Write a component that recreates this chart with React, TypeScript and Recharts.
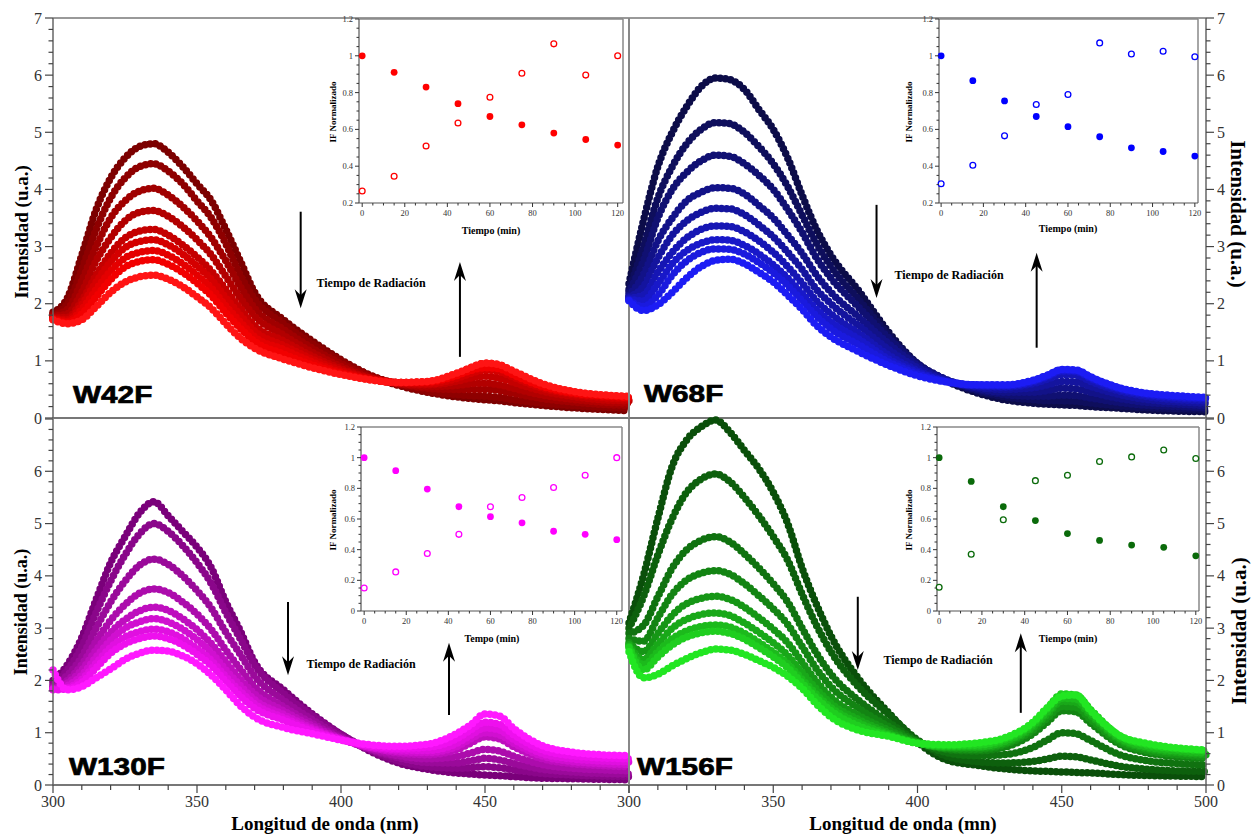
import React from 'react';
import { ComposedChart, ScatterChart, Line, Scatter, XAxis, YAxis, ReferenceLine, ReferenceDot } from 'recharts';

// ---------- data ----------
const WL = [300, 305, 310, 315, 320, 325, 330, 335, 340, 345, 350, 355, 360, 365, 370, 380, 390, 400, 410, 420, 430, 440, 445, 450, 455, 460, 470, 480, 490, 500];
const TIMES = [0, 15, 30, 45, 60, 75, 90, 105, 120];

// spectra, one row per irradiation time (0 ... 120 min), values at WL
const W42F_CURVES = [
  [1.85, 2.1, 2.85, 3.65, 4.2, 4.55, 4.75, 4.8, 4.65, 4.4, 4.1, 3.8, 3.3, 2.75, 2.2, 1.72, 1.35, 1.02, 0.75, 0.57, 0.45, 0.37, 0.34, 0.32, 0.3, 0.27, 0.22, 0.18, 0.15, 0.13],
  [1.82, 2.0, 2.6, 3.3, 3.85, 4.2, 4.4, 4.45, 4.32, 4.1, 3.8, 3.5, 3.05, 2.5, 2.08, 1.65, 1.3, 1.0, 0.75, 0.58, 0.47, 0.41, 0.39, 0.38, 0.36, 0.32, 0.26, 0.22, 0.19, 0.17],
  [1.8, 1.9, 2.4, 3.0, 3.5, 3.8, 3.97, 4.02, 3.9, 3.7, 3.45, 3.15, 2.75, 2.3, 1.92, 1.55, 1.22, 0.95, 0.73, 0.6, 0.52, 0.5, 0.5, 0.5, 0.48, 0.43, 0.34, 0.28, 0.24, 0.22],
  [1.78, 1.82, 2.2, 2.75, 3.15, 3.45, 3.6, 3.63, 3.53, 3.35, 3.12, 2.85, 2.48, 2.1, 1.78, 1.45, 1.15, 0.9, 0.71, 0.6, 0.55, 0.57, 0.6, 0.61, 0.58, 0.52, 0.4, 0.33, 0.28, 0.26],
  [1.76, 1.76, 2.05, 2.5, 2.88, 3.15, 3.27, 3.3, 3.2, 3.03, 2.82, 2.57, 2.25, 1.92, 1.62, 1.35, 1.08, 0.86, 0.7, 0.61, 0.58, 0.64, 0.7, 0.73, 0.7, 0.62, 0.47, 0.38, 0.32, 0.3],
  [1.75, 1.72, 1.98, 2.38, 2.73, 2.98, 3.09, 3.12, 3.03, 2.87, 2.66, 2.42, 2.1, 1.8, 1.52, 1.27, 1.03, 0.83, 0.69, 0.62, 0.6, 0.69, 0.78, 0.84, 0.81, 0.71, 0.52, 0.42, 0.36, 0.33],
  [1.74, 1.69, 1.9, 2.25, 2.57, 2.8, 2.9, 2.93, 2.85, 2.7, 2.5, 2.27, 1.96, 1.68, 1.42, 1.2, 0.98, 0.8, 0.68, 0.62, 0.63, 0.76, 0.88, 0.96, 0.93, 0.8, 0.58, 0.46, 0.4, 0.37],
  [1.73, 1.67, 1.82, 2.12, 2.42, 2.64, 2.74, 2.77, 2.69, 2.55, 2.36, 2.14, 1.84, 1.57, 1.34, 1.12, 0.93, 0.78, 0.67, 0.62, 0.63, 0.74, 0.83, 0.88, 0.86, 0.75, 0.55, 0.44, 0.39, 0.36],
  [1.72, 1.65, 1.72, 1.95, 2.2, 2.38, 2.47, 2.5, 2.43, 2.3, 2.12, 1.92, 1.65, 1.4, 1.22, 1.03, 0.88, 0.76, 0.67, 0.62, 0.64, 0.78, 0.88, 0.96, 0.93, 0.82, 0.6, 0.47, 0.41, 0.38],
];
const W68F_CURVES = [
  [2.35, 3.45, 4.4, 5.0, 5.45, 5.8, 5.95, 5.92, 5.75, 5.4, 5.05, 4.55, 3.9, 3.3, 2.85, 2.2, 1.5, 0.95, 0.65, 0.45, 0.32, 0.26, 0.24, 0.23, 0.22, 0.2, 0.17, 0.14, 0.12, 0.11],
  [2.25, 3.0, 3.85, 4.4, 4.8, 5.05, 5.17, 5.15, 5.0, 4.75, 4.45, 4.05, 3.55, 3.05, 2.65, 2.05, 1.45, 0.95, 0.66, 0.48, 0.37, 0.32, 0.3, 0.3, 0.29, 0.26, 0.21, 0.18, 0.16, 0.15],
  [2.2, 2.75, 3.5, 4.0, 4.3, 4.5, 4.6, 4.58, 4.45, 4.25, 4.0, 3.65, 3.25, 2.8, 2.45, 1.92, 1.4, 0.95, 0.67, 0.5, 0.41, 0.38, 0.38, 0.4, 0.39, 0.35, 0.27, 0.22, 0.2, 0.18],
  [2.15, 2.5, 3.1, 3.5, 3.8, 3.95, 4.03, 4.02, 3.92, 3.72, 3.5, 3.2, 2.88, 2.5, 2.2, 1.75, 1.3, 0.92, 0.67, 0.52, 0.45, 0.45, 0.48, 0.52, 0.51, 0.45, 0.34, 0.27, 0.24, 0.22],
  [2.12, 2.3, 2.8, 3.2, 3.45, 3.6, 3.67, 3.66, 3.56, 3.38, 3.17, 2.9, 2.6, 2.25, 2.0, 1.6, 1.2, 0.88, 0.66, 0.54, 0.5, 0.53, 0.58, 0.64, 0.63, 0.55, 0.41, 0.32, 0.28, 0.26],
  [2.1, 2.15, 2.55, 2.9, 3.15, 3.3, 3.36, 3.35, 3.26, 3.1, 2.9, 2.65, 2.36, 2.05, 1.82, 1.47, 1.1, 0.83, 0.65, 0.56, 0.54, 0.6, 0.68, 0.76, 0.75, 0.64, 0.47, 0.37, 0.32, 0.3],
  [2.08, 2.05, 2.35, 2.7, 2.93, 3.06, 3.12, 3.11, 3.02, 2.87, 2.68, 2.45, 2.18, 1.9, 1.68, 1.37, 1.03, 0.8, 0.64, 0.57, 0.56, 0.63, 0.72, 0.82, 0.81, 0.69, 0.5, 0.4, 0.35, 0.33],
  [2.06, 1.95, 2.15, 2.5, 2.75, 2.9, 2.96, 2.95, 2.87, 2.72, 2.54, 2.32, 2.05, 1.78, 1.56, 1.27, 0.98, 0.77, 0.64, 0.58, 0.57, 0.65, 0.74, 0.84, 0.83, 0.71, 0.52, 0.42, 0.37, 0.35],
  [2.05, 1.88, 1.98, 2.2, 2.45, 2.65, 2.76, 2.78, 2.7, 2.55, 2.38, 2.15, 1.9, 1.62, 1.42, 1.15, 0.92, 0.74, 0.63, 0.58, 0.58, 0.66, 0.75, 0.85, 0.84, 0.72, 0.53, 0.43, 0.39, 0.36],
];
const W130F_CURVES = [
  [2.0, 2.3, 2.82, 3.55, 4.25, 4.75, 5.2, 5.42, 5.15, 4.85, 4.55, 4.15, 3.5, 2.95, 2.35, 1.82, 1.36, 0.97, 0.65, 0.42, 0.3, 0.23, 0.21, 0.19, 0.18, 0.16, 0.13, 0.12, 0.11, 0.1],
  [1.95, 2.2, 2.65, 3.3, 3.9, 4.4, 4.8, 5.0, 4.85, 4.58, 4.25, 3.85, 3.3, 2.8, 2.3, 1.75, 1.33, 0.97, 0.67, 0.46, 0.35, 0.32, 0.33, 0.35, 0.33, 0.29, 0.22, 0.19, 0.17, 0.16],
  [1.9, 2.1, 2.45, 3.0, 3.5, 3.9, 4.2, 4.32, 4.22, 4.0, 3.72, 3.38, 2.92, 2.5, 2.08, 1.62, 1.25, 0.93, 0.68, 0.52, 0.43, 0.42, 0.46, 0.51, 0.48, 0.41, 0.3, 0.25, 0.22, 0.21],
  [1.87, 2.0, 2.3, 2.75, 3.15, 3.45, 3.67, 3.75, 3.68, 3.5, 3.27, 2.97, 2.58, 2.22, 1.88, 1.5, 1.18, 0.9, 0.69, 0.56, 0.5, 0.54, 0.61, 0.68, 0.65, 0.55, 0.39, 0.32, 0.29, 0.27],
  [1.85, 1.95, 2.2, 2.58, 2.92, 3.16, 3.33, 3.4, 3.34, 3.18, 2.97, 2.7, 2.36, 2.03, 1.74, 1.42, 1.13, 0.89, 0.71, 0.61, 0.58, 0.67, 0.8, 0.92, 0.88, 0.73, 0.5, 0.41, 0.37, 0.35],
  [1.84, 1.9, 2.1, 2.45, 2.77, 3.0, 3.12, 3.18, 3.12, 2.98, 2.78, 2.53, 2.2, 1.9, 1.63, 1.35, 1.09, 0.88, 0.72, 0.64, 0.62, 0.73, 0.88, 1.0, 0.96, 0.8, 0.55, 0.45, 0.41, 0.39],
  [1.83, 1.86, 2.02, 2.33, 2.63, 2.83, 2.93, 2.98, 2.93, 2.8, 2.61, 2.38, 2.07, 1.79, 1.55, 1.29, 1.06, 0.87, 0.73, 0.67, 0.66, 0.79, 0.95, 1.09, 1.05, 0.87, 0.6, 0.5, 0.46, 0.44],
  [1.82, 1.84, 1.96, 2.24, 2.52, 2.7, 2.8, 2.85, 2.8, 2.68, 2.5, 2.28, 1.98, 1.7, 1.47, 1.24, 1.03, 0.87, 0.75, 0.7, 0.72, 0.88, 1.05, 1.2, 1.16, 0.96, 0.67, 0.56, 0.52, 0.5],
  [2.2, 1.82, 1.88, 2.05, 2.22, 2.4, 2.52, 2.58, 2.56, 2.47, 2.32, 2.1, 1.82, 1.52, 1.3, 1.1, 0.98, 0.86, 0.77, 0.74, 0.78, 0.98, 1.15, 1.36, 1.32, 1.08, 0.75, 0.63, 0.58, 0.56],
];
const W156F_CURVES = [
  [3.1, 4.0, 5.1, 6.1, 6.6, 6.85, 6.98, 6.75, 6.4, 6.05, 5.6, 5.0, 4.15, 3.45, 2.85, 2.0, 1.38, 0.82, 0.48, 0.38, 0.31, 0.27, 0.26, 0.25, 0.24, 0.23, 0.2, 0.18, 0.17, 0.16],
  [3.0, 3.6, 4.4, 5.1, 5.6, 5.85, 5.95, 5.8, 5.5, 5.15, 4.75, 4.3, 3.65, 3.05, 2.55, 1.85, 1.35, 0.86, 0.55, 0.45, 0.42, 0.45, 0.5, 0.55, 0.54, 0.48, 0.36, 0.3, 0.27, 0.26],
  [2.9, 3.05, 3.6, 4.15, 4.5, 4.68, 4.75, 4.65, 4.42, 4.15, 3.85, 3.5, 3.0, 2.52, 2.12, 1.6, 1.2, 0.84, 0.62, 0.56, 0.58, 0.72, 0.86, 1.0, 0.98, 0.85, 0.58, 0.46, 0.41, 0.38],
  [2.8, 2.75, 3.2, 3.65, 3.92, 4.05, 4.1, 4.03, 3.85, 3.62, 3.37, 3.07, 2.65, 2.22, 1.88, 1.45, 1.12, 0.83, 0.68, 0.65, 0.72, 0.98, 1.2, 1.42, 1.4, 1.18, 0.78, 0.61, 0.54, 0.5],
  [2.72, 2.55, 2.9, 3.25, 3.47, 3.57, 3.61, 3.55, 3.4, 3.2, 2.98, 2.72, 2.35, 1.98, 1.68, 1.32, 1.05, 0.82, 0.7, 0.68, 0.77, 1.05, 1.28, 1.5, 1.48, 1.25, 0.82, 0.65, 0.58, 0.54],
  [2.68, 2.4, 2.7, 3.0, 3.17, 3.26, 3.29, 3.24, 3.1, 2.92, 2.72, 2.48, 2.15, 1.83, 1.56, 1.24, 1.0, 0.81, 0.72, 0.71, 0.8, 1.1, 1.35, 1.6, 1.58, 1.33, 0.87, 0.69, 0.62, 0.58],
  [2.65, 2.3, 2.55, 2.8, 2.95, 3.03, 3.06, 3.02, 2.9, 2.73, 2.54, 2.32, 2.02, 1.73, 1.48, 1.18, 0.97, 0.8, 0.73, 0.73, 0.83, 1.14, 1.4, 1.66, 1.64, 1.38, 0.9, 0.72, 0.65, 0.61],
  [2.63, 2.2, 2.45, 2.68, 2.83, 2.91, 2.94, 2.9, 2.79, 2.63, 2.45, 2.24, 1.95, 1.66, 1.42, 1.12, 0.95, 0.8, 0.75, 0.76, 0.87, 1.18, 1.46, 1.74, 1.72, 1.44, 0.94, 0.76, 0.69, 0.65],
  [2.55, 2.05, 2.12, 2.28, 2.42, 2.53, 2.6, 2.58, 2.5, 2.38, 2.25, 2.08, 1.85, 1.55, 1.3, 1.04, 0.93, 0.8, 0.77, 0.8, 0.9, 1.2, 1.48, 1.7, 1.72, 1.42, 0.95, 0.79, 0.71, 0.67],
];

// normalised fluorescence (insets): filled = 330 nm band, open = 450 nm band
const W42F_IF_330 = [1.0, 0.91, 0.83, 0.74, 0.67, 0.625, 0.58, 0.545, 0.515];
const W42F_IF_450 = [0.265, 0.345, 0.51, 0.635, 0.775, 0.905, 1.065, 0.895, 1.0];
const W68F_IF_330 = [1.0, 0.865, 0.755, 0.67, 0.615, 0.56, 0.5, 0.48, 0.455];
const W68F_IF_450 = [0.305, 0.405, 0.565, 0.735, 0.79, 1.07, 1.01, 1.025, 0.995];
const W130F_IF_330 = [1.0, 0.915, 0.795, 0.68, 0.615, 0.575, 0.52, 0.5, 0.465];
const W130F_IF_450 = [0.15, 0.255, 0.375, 0.5, 0.68, 0.74, 0.805, 0.885, 1.0];
const W156F_IF_330 = [1.0, 0.845, 0.68, 0.59, 0.505, 0.46, 0.43, 0.415, 0.36];
const W156F_IF_450 = [0.155, 0.37, 0.595, 0.85, 0.885, 0.975, 1.005, 1.05, 0.995];

const RED_SHADES = ['#7c0000', '#8e0000', '#a00000', '#b20000', '#c40000', '#d40000', '#e40000', '#f20000', '#ff1414'];
const BLUE_SHADES = ['#0c0c48', '#0e0e5c', '#101072', '#121288', '#14149e', '#1616b4', '#1818c9', '#1a1ade', '#1c1cf4'];
const PURPLE_SHADES = ['#7a007a', '#8a068a', '#9a0a9a', '#ac0cac', '#be0ebe', '#d010d0', '#e010e0', '#ee10ee', '#ff18ff'];
const GREEN_SHADES = ['#0a4f0a', '#0d600d', '#107210', '#138413', '#169616', '#19a819', '#1cba1c', '#1fce1f', '#22e622'];

const X_TICKS = Array.from({ length: 21 }, (_, i) => 300 + i * 10);
const Y_TICKS = Array.from({ length: 36 }, (_, i) => i / 5);
const INSET_X_TICKS = Array.from({ length: 25 }, (_, i) => i * 5);

// ---------- helpers ----------
const buildTable = (curves: number[][]) =>
  WL.map((w, i) => {
    const row: any = { w };
    curves.forEach((c, k) => (row['c' + k] = c[i]));
    return row;
  });
const buildPts = (vals: number[]) => TIMES.map((t, i) => ({ t, v: vals[i] }));
const isInt = (v: number) => Math.abs(v - Math.round(v)) < 1e-6;
const SERIF = 'Liberation Serif, Times New Roman, serif';
const SANS = 'Liberation Sans, Arial, sans-serif';

const mainYTick = (side: 'left' | 'right', maxLabel: number) => (p: any) => {
  const v = p.payload.value;
  const major = isInt(v);
  const dir = side === 'left' ? -1 : 1;
  const len = major ? 8 : 4.5;
  return (
    <g>
      <line x1={p.x} y1={p.y} x2={p.x + dir * len} y2={p.y} stroke="#444" strokeWidth={1.2} />
      {major && v <= maxLabel + 1e-6 && (
        <text x={p.x + dir * 11} y={p.y} dy="0.35em" textAnchor={side === 'left' ? 'end' : 'start'} fontFamily={SERIF} fontSize={16} fill="#333">
          {Math.round(v)}
        </text>
      )}
    </g>
  );
};

const mainXTick = (maxLabel: number) => (p: any) => {
  const v = Math.round(p.payload.value);
  const major = v % 50 === 0;
  return (
    <g>
      <line x1={p.x} y1={p.y} x2={p.x} y2={p.y + (major ? 8 : 5)} stroke="#444" strokeWidth={1.2} />
      {major && v <= maxLabel && (
        <text x={p.x} y={p.y + 22} textAnchor="middle" fontFamily={SERIF} fontSize={16} fill="#333">
          {v}
        </text>
      )}
    </g>
  );
};

const insetXTick = (p: any) => {
  const v = Math.round(p.payload.value);
  const major = v % 20 === 0;
  return (
    <g>
      <line x1={p.x} y1={p.y} x2={p.x} y2={p.y + (major ? 4 : 2.5)} stroke="#333" strokeWidth={1} />
      {major && (
        <text x={p.x} y={p.y + 13} textAnchor="middle" fontFamily={SERIF} fontSize={8.5} fill="#333">
          {v}
        </text>
      )}
    </g>
  );
};

const insetYTick = (p: any) => {
  const v = p.payload.value;
  const r = Math.round(v * 100);
  const major = r % 20 === 0;
  return (
    <g>
      <line x1={p.x} y1={p.y} x2={p.x - (major ? 4 : 2.5)} y2={p.y} stroke="#333" strokeWidth={1} />
      {major && (
        <text x={p.x - 6} y={p.y} dy="0.35em" textAnchor="end" fontFamily={SERIF} fontSize={8.5} fill="#333">
          {String(Math.round(v * 10) / 10)}
        </text>
      )}
    </g>
  );
};

const arrowHead = (dir: 'up' | 'down') => (p: any) => {
  const { cx, cy } = p;
  const s = dir === 'down' ? -1 : 1;
  const pts = `${cx},${cy} ${cx - 6},${cy + s * 19} ${cx},${cy + s * 13} ${cx + 6},${cy + s * 19}`;
  return <polygon points={pts} fill="#000" />;
};

type PanelProps = {
  left: number;
  top: number;
  width: number;
  height: number;
  margin: any;
  side: 'left' | 'right';
  curves: number[][];
  colors: string[];
  bottom: boolean;
  xMaxLabel: number;
  yMaxLabel: number;
  frameX: number;
  down: [number, number, number];
  up: [number, number, number];
};

function SpectraPanel(props: PanelProps) {
  const { left, top, width, height, margin, side, curves, colors, bottom, xMaxLabel, yMaxLabel, frameX, down, up } = props;
  const data = buildTable(curves);
  return (
    <div style={{ position: 'absolute', left, top }}>
      <ComposedChart width={width} height={height} data={data} margin={margin}>
        <XAxis
          type="number"
          dataKey="w"
          domain={[300, 500]}
          ticks={X_TICKS}
          interval={0}
          height={bottom ? 49 : 1}
          tick={bottom ? mainXTick(xMaxLabel) : false}
          tickLine={false}
          tickSize={0}
          tickMargin={0}
          axisLine={{ stroke: '#777', strokeWidth: 2 }}
        />
        <YAxis
          type="number"
          orientation={side}
          domain={[0, 7]}
          ticks={Y_TICKS}
          interval={0}
          width={side === 'left' ? 53 : 45}
          tick={mainYTick(side, yMaxLabel)}
          tickLine={false}
          tickSize={0}
          tickMargin={0}
          axisLine={{ stroke: '#666', strokeWidth: 1.5 }}
        />
        {!bottom && <ReferenceLine y={7} stroke="#999" strokeWidth={2} />}
        <ReferenceLine x={frameX} stroke="#888" strokeWidth={2} />
        {curves.map((_, k) => (
          <Line
            key={k}
            type="monotone"
            dataKey={'c' + k}
            stroke={colors[k]}
            strokeWidth={7.5}
            strokeDasharray="0 5.2"
            strokeLinecap="round"
            dot={false}
            activeDot={false}
            isAnimationActive={false}
          />
        ))}
        <ReferenceLine segment={[{ x: down[0], y: down[1] }, { x: down[0], y: down[2] + 0.15 }]} stroke="#000" strokeWidth={2} />
        <ReferenceDot x={down[0]} y={down[2]} r={1} shape={arrowHead('down')} />
        <ReferenceLine segment={[{ x: up[0], y: up[1] }, { x: up[0], y: up[2] - 0.15 }]} stroke="#000" strokeWidth={2} />
        <ReferenceDot x={up[0]} y={up[2]} r={1} shape={arrowHead('up')} />
      </ComposedChart>
    </div>
  );
}

type InsetProps = {
  left: number;
  top: number;
  yAxisW: number;
  rightM: number;
  xDomain: [number, number];
  yMin: number;
  filled: number[];
  open: number[];
  color: string;
};

function Inset({ left, top, yAxisW, rightM, xDomain, yMin, filled, open, color }: InsetProps) {
  const yTicks = Array.from({ length: Math.round((1.2 - yMin) / 0.05) + 1 }, (_, i) => yMin + i * 0.05);
  return (
    <div style={{ position: 'absolute', left, top }}>
      <ScatterChart width={300} height={230} margin={{ top: 9, right: rightM, bottom: 0, left: 0 }}>
        <XAxis
          type="number"
          dataKey="t"
          domain={xDomain}
          ticks={INSET_X_TICKS}
          interval={0}
          height={37}
          tick={insetXTick}
          tickLine={false}
          tickSize={0}
          tickMargin={0}
          axisLine={{ stroke: '#555', strokeWidth: 1.2 }}
        />
        <YAxis
          type="number"
          dataKey="v"
          domain={[yMin, 1.2]}
          ticks={yTicks}
          interval={0}
          width={yAxisW}
          tick={insetYTick}
          tickLine={false}
          tickSize={0}
          tickMargin={0}
          axisLine={{ stroke: '#555', strokeWidth: 1.2 }}
        />
        <ReferenceLine y={1.2} stroke="#888" strokeWidth={1.5} />
        <ReferenceLine x={xDomain[1]} stroke="#888" strokeWidth={1.5} />
        <Scatter
          data={buildPts(filled)}
          isAnimationActive={false}
          shape={(p: any) => <circle cx={p.cx} cy={p.cy} r={3.4} fill={color} />}
        />
        <Scatter
          data={buildPts(open)}
          isAnimationActive={false}
          shape={(p: any) => <circle cx={p.cx} cy={p.cy} r={2.9} fill="#fff" stroke={color} strokeWidth={1.3} />}
        />
      </ScatterChart>
    </div>
  );
}

function Overlay() {
  const bold = { fontFamily: SERIF, fontWeight: 'bold' as const, fill: '#000' };
  const panelLbl = { fontFamily: SANS, fontWeight: 'bold' as const, fontSize: 24, fill: '#000', stroke: '#000', strokeWidth: 0.7 };
  const rad = (x: number, y: number) => (
    <text x={x} y={y} textAnchor="middle" dominantBaseline="central" fontSize={12} {...bold}>
      Tiempo de Radiación
    </text>
  );
  const vt = (x: number, y: number, rot: number, size: number, txt: string) => (
    <text transform={`translate(${x},${y}) rotate(${rot})`} textAnchor="middle" dominantBaseline="central" fontSize={size} {...bold}>
      {txt}
    </text>
  );
  return (
    <svg width={1251} height={834} style={{ position: 'absolute', left: 0, top: 0, pointerEvents: 'none' }}>
      <text transform="translate(73,403) scale(1.24,1)" {...panelLbl}>W42F</text>
      <text transform="translate(644,402) scale(1.24,1)" {...panelLbl}>W68F</text>
      <text transform="translate(69,775) scale(1.24,1)" {...panelLbl}>W130F</text>
      <text transform="translate(637,775) scale(1.24,1)" {...panelLbl}>W156F</text>

      {vt(21, 232, -90, 19, 'Intensidad (u.a.)')}
      {vt(21, 612, -90, 18, 'Intensidad (u.a.)')}
      {vt(1238, 214, 90, 21, 'Intensidad (u.a.)')}
      {vt(1239, 631, -90, 21, 'Intensidad (u.a.)')}

      <text x={325} y={830} textAnchor="middle" fontSize={19} {...bold}>Longitud de onda (nm)</text>
      <text x={903} y={830} textAnchor="middle" fontSize={19} {...bold}>Longitud de onda (mn)</text>

      {rad(371, 283)}
      {rad(949, 275)}
      {rad(361, 664)}
      {rad(938, 660)}

      {vt(333, 112, -90, 9, 'IF Normalizado')}
      {vt(909, 112, -90, 9, 'IF Normalizado')}
      {vt(333, 520, -90, 9, 'IF Normalizado')}
      {vt(909, 520, -90, 9, 'IF Normalizado')}

      <text x={491} y={230} textAnchor="middle" dominantBaseline="central" fontSize={10} {...bold}>Tiempo (min)</text>
      <text x={1068} y={228} textAnchor="middle" dominantBaseline="central" fontSize={10} {...bold}>Tiempo (min)</text>
      <text x={492} y={638} textAnchor="middle" dominantBaseline="central" fontSize={10} {...bold}>Tempo (min)</text>
      <text x={1068} y={638} textAnchor="middle" dominantBaseline="central" fontSize={10} {...bold}>Tiempo (min)</text>
    </svg>
  );
}

export default function App() {
  return (
    <div style={{ position: 'absolute', left: 0, top: 0, width: 1251, height: 834, background: '#fff', overflow: 'hidden' }}>
      <SpectraPanel
        left={0} top={0} width={640} height={430}
        margin={{ top: 18, right: 11, bottom: 11, left: 0 }}
        side="left" curves={W42F_CURVES} colors={RED_SHADES} bottom={false}
        xMaxLabel={500} yMaxLabel={7} frameX={500}
        down={[386, 3.61, 1.92]} up={[441.3, 1.07, 2.73]}
      />
      <SpectraPanel
        left={600} top={0} width={651} height={430}
        margin={{ top: 18, right: 0, bottom: 11, left: 29 }}
        side="right" curves={W68F_CURVES} colors={BLUE_SHADES} bottom={false}
        xMaxLabel={500} yMaxLabel={7} frameX={300}
        down={[385.8, 3.73, 2.1]} up={[441.3, 1.23, 2.89]}
      />
      <SpectraPanel
        left={0} top={400} width={640} height={434}
        margin={{ top: 19, right: 11, bottom: 0, left: 0 }}
        side="left" curves={W130F_CURVES} colors={PURPLE_SHADES} bottom={true}
        xMaxLabel={450} yMaxLabel={6} frameX={500}
        down={[381.6, 3.5, 2.1]} up={[437.5, 1.34, 2.72]}
      />
      <SpectraPanel
        left={600} top={400} width={651} height={434}
        margin={{ top: 19, right: 0, bottom: 0, left: 29 }}
        side="right" curves={W156F_CURVES} colors={GREEN_SHADES} bottom={true}
        xMaxLabel={500} yMaxLabel={6} frameX={300}
        down={[379.3, 3.6, 2.2]} up={[435.8, 1.38, 2.9]}
      />
      <Inset left={330} top={10} yAxisW={29} rightM={7} xDomain={[-1.5, 122.5]} yMin={0.2} filled={W42F_IF_330} open={W42F_IF_450} color="#ff0000" />
      <Inset left={905} top={10} yAxisW={34} rightM={7} xDomain={[-1, 121.5]} yMin={0.2} filled={W68F_IF_330} open={W68F_IF_450} color="#0000ff" />
      <Inset left={330} top={418} yAxisW={31} rightM={8} xDomain={[-1.5, 122.5]} yMin={0} filled={W130F_IF_330} open={W130F_IF_450} color="#ff00ff" />
      <Inset left={905} top={418} yAxisW={32} rightM={6} xDomain={[-1, 121.5]} yMin={0} filled={W156F_IF_330} open={W156F_IF_450} color="#0a6a0a" />
      <Overlay />
    </div>
  );
}
